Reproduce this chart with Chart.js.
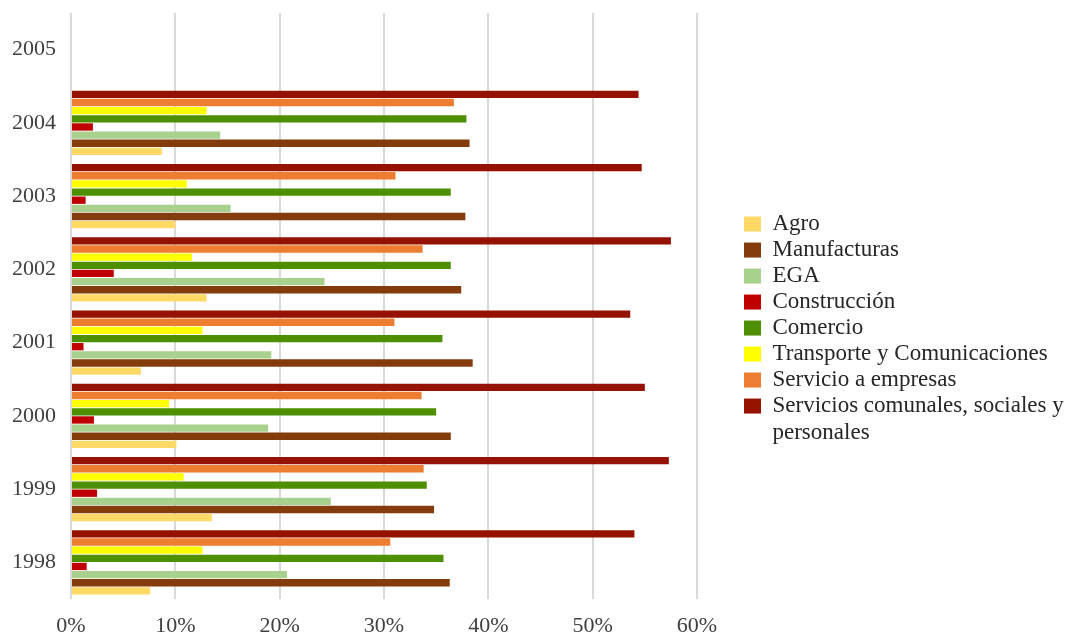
<!DOCTYPE html>
<html>
<head>
<meta charset="utf-8">
<script src="https://cdn.jsdelivr.net/npm/chart.js@4.4.1/dist/chart.umd.min.js"></script>
<style>
  html, body { margin: 0; padding: 0; background: #fff; }
</style>
</head>
<body>
<canvas id="sectores" width="1065" height="637"></canvas>
<script>
// Participación por sector, 1998-2005 (2005 sin datos)
const years = ['1998', '1999', '2000', '2001', '2002', '2003', '2004', '2005'];

const agro          = [7.6, 13.5, 10.1, 6.7, 13.0, 10.0, 8.7, null];
const manufacturas  = [36.3, 34.8, 36.4, 38.5, 37.4, 37.8, 38.2, null];
const ega           = [20.7, 24.9, 18.9, 19.2, 24.3, 15.3, 14.3, null];
const construccion  = [1.5, 2.5, 2.2, 1.2, 4.1, 1.4, 2.1, null];
const comercio      = [35.7, 34.1, 35.0, 35.6, 36.4, 36.4, 37.9, null];
const transporte    = [12.6, 10.8, 9.4, 12.6, 11.6, 11.1, 13.0, null];
const servEmpresas  = [30.6, 33.8, 33.6, 31.0, 33.7, 31.1, 36.7, null];
const servComunales = [54.0, 57.3, 55.0, 53.6, 57.5, 54.7, 54.4, null];

const xTicks = [0, 10, 20, 30, 40, 50, 60];

const sectors = [
  { label: 'Agro', data: agro, color: '#FFD966' },
  { label: 'Manufacturas', data: manufacturas, color: '#843C0C' },
  { label: 'EGA', data: ega, color: '#A9D18E' },
  { label: 'Construcción', data: construccion, color: '#C00000' },
  { label: 'Comercio', data: comercio, color: '#4E8F00' },
  { label: 'Transporte y Comunicaciones', data: transporte, color: '#FFFF00' },
  { label: 'Servicio a empresas', data: servEmpresas, color: '#ED7D31' },
  { label: 'Servicios comunales, sociales y personales', data: servComunales, color: '#961200' }
];

const serif = '"Liberation Serif", "Times New Roman", serif';
Chart.defaults.font.family = serif;
Chart.defaults.color = '#404040';

// legend box reserves room right of the plot; items are pushed right inside it
const legendWidth = 368;
const legendGap = 44;
const legendDrop = 5;

const legendSpacer = {
  id: 'legendSpacer',
  afterInit(chart) {
    const fit = chart.legend.fit;
    chart.legend.fit = function () {
      fit.call(this);
      this.width = legendWidth;
    };
  },
  afterLayout(chart) {
    const lg = chart.legend;
    lg.left += legendGap;
    lg.top += legendDrop;
    lg.bottom += legendDrop;
  }
};

// the last dataset sits at the bottom of each group, so go in reverse and flip the legend back
const datasets = sectors.slice().reverse().map(s => ({
  label: s.label,
  data: s.data,
  backgroundColor: s.color,
  borderWidth: 0,
  categoryPercentage: 0.89,
  barPercentage: 0.9
}));

new Chart(document.getElementById('sectores'), {
  type: 'bar',
  data: { labels: years, datasets },
  plugins: [legendSpacer],
  options: {
    indexAxis: 'y',
    responsive: false,
    animation: false,
    layout: { padding: { top: 13, left: 11, right: 0, bottom: 0 } },
    scales: {
      x: {
        min: 0,
        max: 60,
        afterBuildTicks(scale) {
          scale.ticks = xTicks.map(v => ({ value: v }));
        },
        afterFit(scale) {
          scale.paddingLeft = 0;
          scale.paddingRight = 0;
          scale.height = 38;
        },
        ticks: {
          callback: v => v + '%',
          font: { size: 22, lineHeight: 1 },
          padding: 16,
          maxRotation: 0
        },
        grid: { color: '#d9d9d9', lineWidth: 2, drawTicks: false },
        border: { display: false }
      },
      y: {
        reverse: true,
        afterFit(scale) {
          scale.paddingTop = 0;
          scale.paddingBottom = 0;
          scale.width = 60;
        },
        ticks: { font: { size: 22 }, padding: 15 },
        grid: { display: false, drawTicks: false },
        border: { display: false }
      }
    },
    plugins: {
      tooltip: { enabled: false },
      legend: {
        position: 'right',
        reverse: true,
        labels: {
          font: { size: 23, family: serif, lineHeight: 1.15 },
          color: '#262626',
          boxWidth: 17,
          boxHeight: 15,
          padding: 3,
          generateLabels(chart) {
            const items = Chart.defaults.plugins.legend.labels.generateLabels(chart);
            items.forEach(it => {
              if (it.text.startsWith('Servicios comunales')) {
                it.text = ['Servicios comunales, sociales y', 'personales'];
              }
            });
            return items;
          }
        }
      }
    }
  }
});
</script>
</body>
</html>
